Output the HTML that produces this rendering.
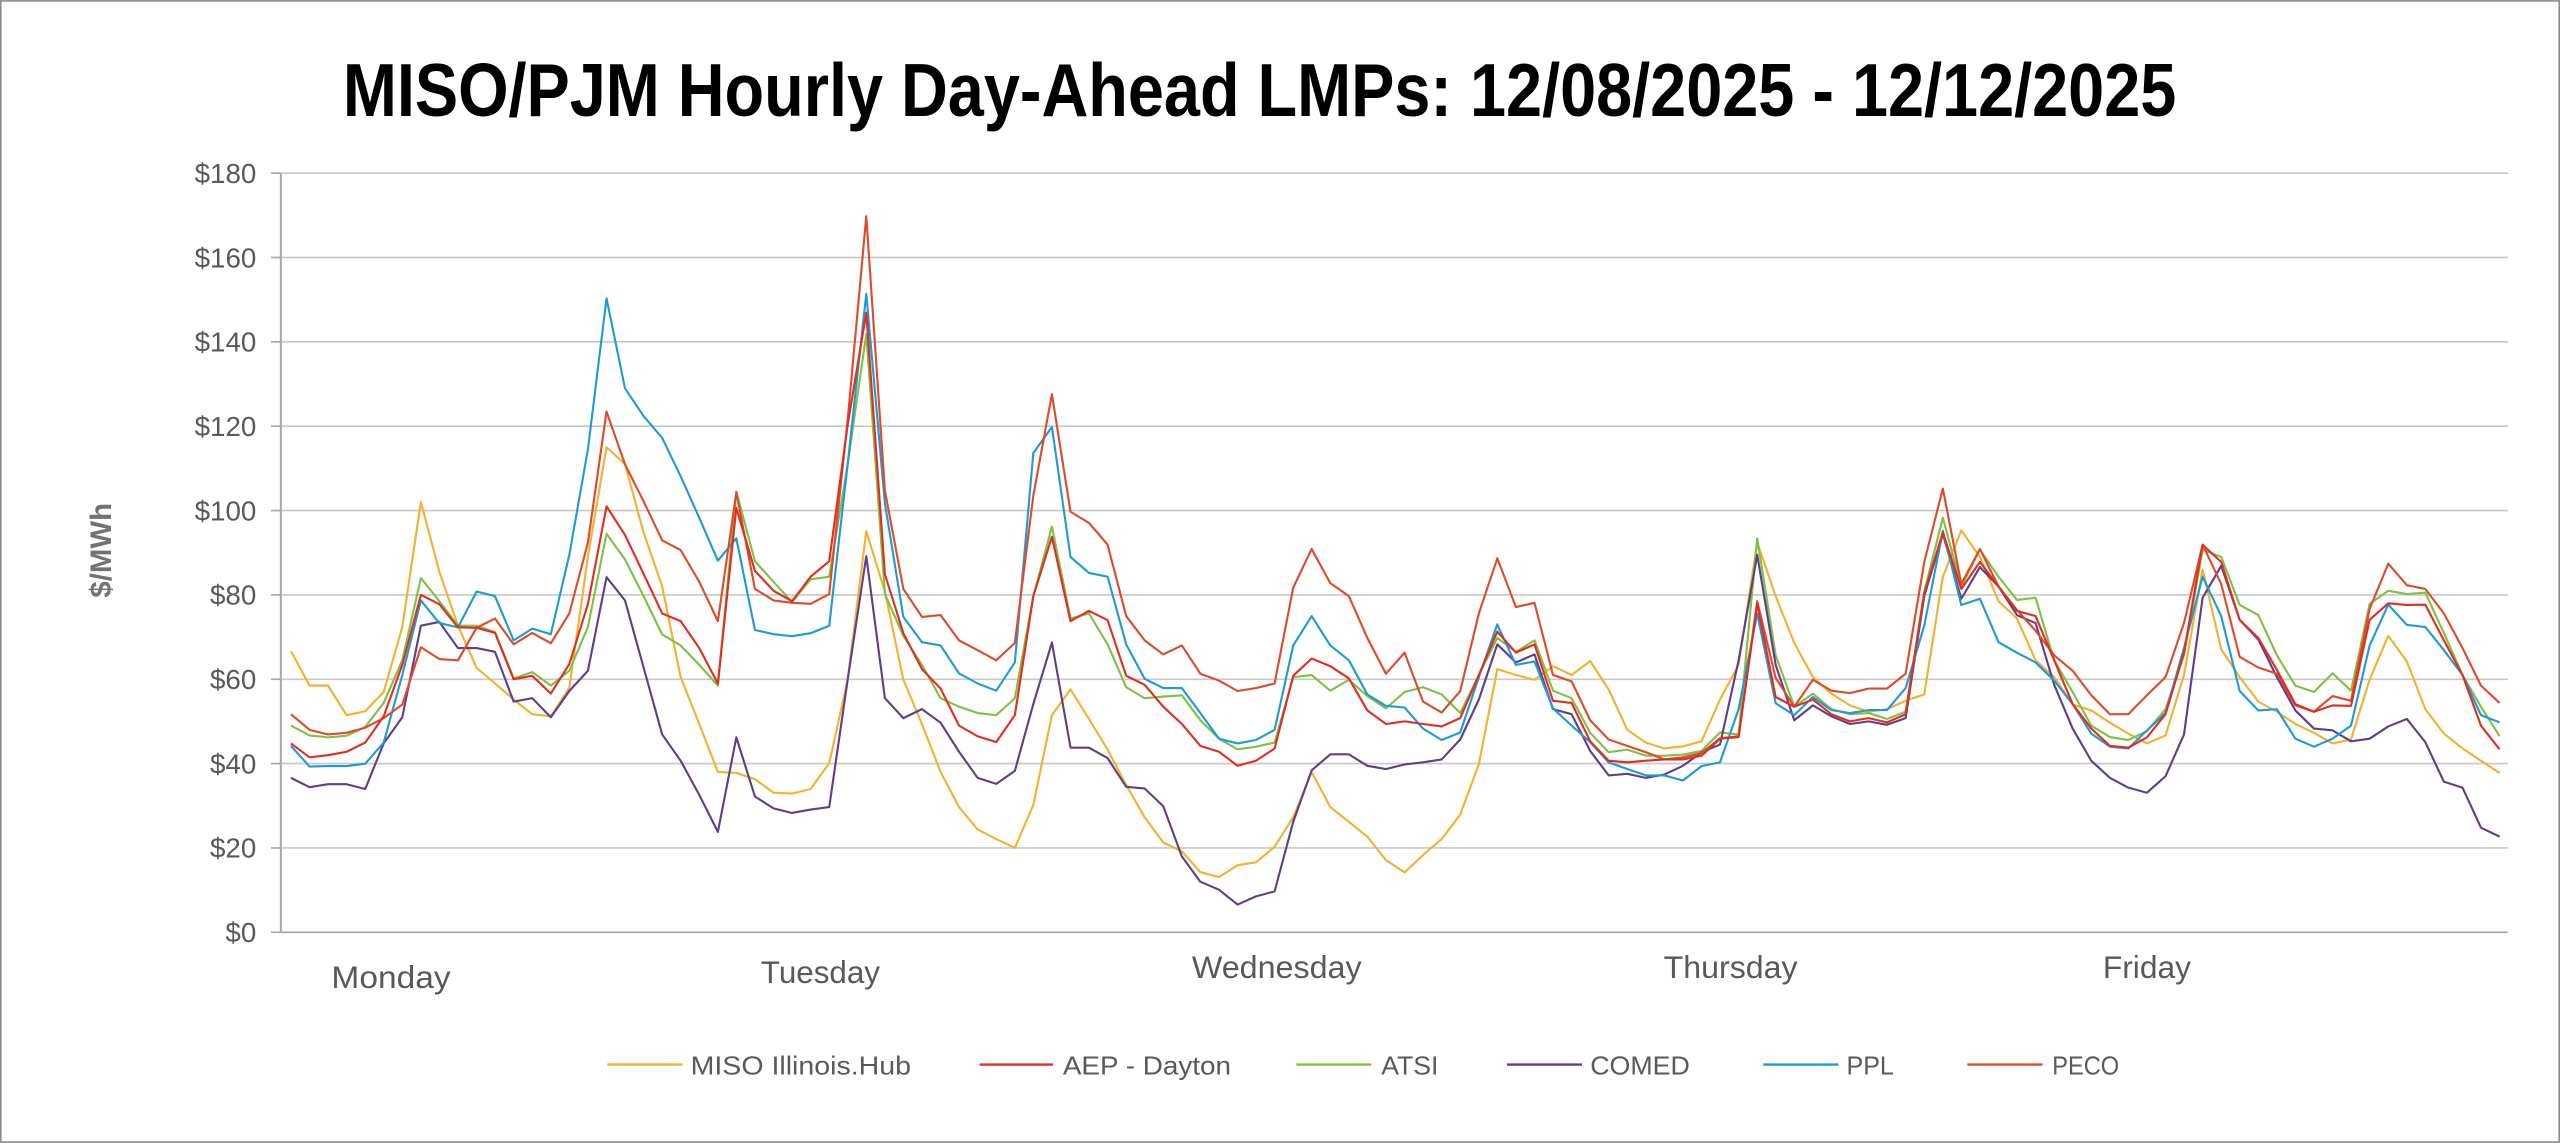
<!DOCTYPE html>
<html><head><meta charset="utf-8"><style>
html,body{margin:0;padding:0;background:#fff;}
svg{display:block;}
</style></head><body>
<svg id="c" width="2560" height="1143" viewBox="0 0 1568 700" xmlns="http://www.w3.org/2000/svg" font-family="'Liberation Sans', sans-serif">
<rect x="0.5" y="0.5" width="1567" height="699" fill="#fff" stroke="#8c8c8c" stroke-width="1"/>
<text x="210" y="71" font-size="46" font-weight="bold" fill="#000" textLength="1123" lengthAdjust="spacingAndGlyphs">MISO/PJM Hourly Day-Ahead LMPs: 12/08/2025 - 12/12/2025</text>
<g id="grid"></g>
<g id="series" fill="none" stroke-width="1.3" stroke-linejoin="round"></g>
<text transform="translate(68,337) rotate(-90)" text-anchor="middle" font-size="18" font-weight="bold" fill="#737373" textLength="58" lengthAdjust="spacingAndGlyphs">$/MWh</text>
<g font-size="19" fill="#595959">
<text x="203" y="605" textLength="73" lengthAdjust="spacingAndGlyphs">Monday</text>
<text x="466" y="602" textLength="73" lengthAdjust="spacingAndGlyphs">Tuesday</text>
<text x="730" y="599" textLength="104" lengthAdjust="spacingAndGlyphs">Wednesday</text>
<text x="1019" y="599" textLength="82" lengthAdjust="spacingAndGlyphs">Thursday</text>
<text x="1288" y="599" textLength="54" lengthAdjust="spacingAndGlyphs">Friday</text>
</g>
<g font-size="16" fill="#595959" stroke-width="1.5">
<line x1="372" y1="652" x2="418" y2="652" stroke="#F4B12E"/><text x="423" y="658" textLength="135" lengthAdjust="spacingAndGlyphs">MISO Illinois.Hub</text>
<line x1="600" y1="652" x2="645" y2="652" stroke="#E42D22"/><text x="651" y="658" textLength="103" lengthAdjust="spacingAndGlyphs">AEP - Dayton</text>
<line x1="794" y1="652" x2="840" y2="652" stroke="#7DC242"/><text x="846" y="658" textLength="35" lengthAdjust="spacingAndGlyphs">ATSI</text>
<line x1="923" y1="652" x2="969" y2="652" stroke="#603E8C"/><text x="974" y="658" textLength="61" lengthAdjust="spacingAndGlyphs">COMED</text>
<line x1="1080" y1="652" x2="1126" y2="652" stroke="#1E9BD7"/><text x="1131" y="658" textLength="29" lengthAdjust="spacingAndGlyphs">PPL</text>
<line x1="1205" y1="652" x2="1251" y2="652" stroke="#DD4B2A"/><text x="1257" y="658" textLength="41" lengthAdjust="spacingAndGlyphs">PECO</text>
</g>
</svg>
<script>
var NS="http://www.w3.org/2000/svg";
var g=document.getElementById("grid");
function el(t,a,p){var e=document.createElementNS(NS,t);for(var k in a)e.setAttribute(k,a[k]);p.appendChild(e);return e;}
function Y(v){return 571-v*465/180;}
for(var v=0;v<=180;v+=20){
  var y=Y(v);
  el("line",{x1:172,x2:1536,y1:y,y2:y,stroke:v==0?"#a6a6a6":"#c8c8c8","stroke-width":1},g);
  el("line",{x1:166,x2:172,y1:y,y2:y,stroke:"#a6a6a6","stroke-width":1},g);
  var t=el("text",{x:157,y:y+6,"text-anchor":"end","font-size":17,fill:"#595959"},g);t.textContent="$"+v;
}
el("line",{x1:172,x2:172,y1:106,y2:571,stroke:"#a6a6a6","stroke-width":1.2},g);
var D={
"#F4B12E":[66.7,58.5,58.5,51.5,52.4,57,72.4,102,85.5,72.7,62.7,59,55.2,51.7,51.2,58,89,115,111,94.8,82,60.5,49.4,38,
37.8,36.3,33.1,32.9,34,40.1,59.9,95.1,80.8,59.9,49.4,38,29.7,24.4,22.1,20,30.2,51.5,57.6,50.6,43.3,34.9,27.3,21.3,19.2,14.3,
13.1,15.9,16.6,20.3,27.3,38,29.7,26.2,22.7,17.1,14.2,18.3,22.1,27.9,39.9,62.4,61,59.9,63.1,61,64.3,57.6,48,45,43.6,
44.1,45.3,55.2,63.4,92.4,79.7,68.6,60.5,56.6,53.8,52.3,52.9,54.9,56.4,84.3,95.3,89,78.5,74.4,64.5,60.5,54,52.6,49.7,47.1,
44.8,46.7,61,86,67.1,60.5,54.7,52.3,49.4,47.3,44.8,45.7,59.9,70.3,64.2,52.9,47.1,43.6,40.7,37.8],
"#7DC242":[49,46.7,46.2,46.6,48.7,54.4,64.5,84,78.5,72.7,72.7,71.2,60.2,61.7,58.5,62,72.4,94.5,88.4,79.7,70.6,68,63.4,58.5,
104.5,88,83.1,78.3,83.7,84.3,111,141.9,80.2,70.3,63.4,55.5,53.5,52,51.5,55.5,79.7,96.2,74.4,75.6,68.3,58.1,55.5,55.9,56.2,50.3,
45.9,43.4,44,45,60.5,61,57.3,59.9,56,53.1,57,58.1,56.4,52,61,69.8,66.5,69.2,57.3,55.5,47.3,42.7,43.3,41.9,41.9,
42.1,43,47.4,46.9,93.4,65.7,53.5,56.6,52.9,51.7,52,50.6,52.3,80.8,98.3,82,90.7,84.3,78.8,79.3,64.5,57,49,46.3,45.6,
47.7,52.9,65.7,90.7,89,77.6,75.2,65.7,58.5,57,61.4,57.3,77.9,81,80.2,80.5,70.9,61,53.5,46.5],
"#603E8C":[36.6,34.4,35.1,35.1,34,44.8,51,72.7,73.6,67.4,67.4,66.5,54.7,55.5,51,57.2,62,84.2,78.7,62.8,46.9,40.7,32.6,23.8,
46.2,32.2,29.4,28.3,29.1,29.7,59.9,89.2,55.5,50.8,52.9,49.7,42.8,36.6,35.2,38.3,54.1,68.7,43.8,43.8,41.3,34.5,34.1,29.9,18,12,
10.1,6.6,8.5,9.7,26.2,38.4,42.2,42.2,39.5,38.7,39.8,40.3,41,45.7,55.2,68.3,64,65.9,52.9,51.7,43,37.2,37.6,36.6,37.4,
39.5,42.7,44.5,64.5,89.5,63.4,50.3,53.8,51.2,49.4,50,49.2,50.8,79.7,94.5,79.1,86.6,82,75.2,73.3,58.7,48.3,40.7,36.6,34.3,
33.1,37,46.9,79.3,86.9,74.1,69.4,60.5,52.6,48.3,47.9,45.3,45.9,48.8,50.6,45.1,35.7,34.3,24.8,22.7],
"#1E9BD7":[44.2,39.3,39.4,39.4,40,45,61,78.7,73.3,72.3,80.8,79.7,69.2,72,70.7,89.5,114.5,150.3,129,122.4,117.2,108.1,98.3,88.1,
93.4,71.7,70.7,70.2,70.9,72.7,111,151.4,101.7,74.8,68.8,68,61.4,59,57.3,64,113.6,119.8,89,85.2,84.3,68.3,60.1,57.9,57.9,52,
45.9,44.8,45.6,48,68,75,68,64.5,56.4,53.7,53.3,48.3,45.6,47.4,60.5,73,63.4,64.2,53.1,49,45.1,40.3,38.7,37.2,37.2,
36,39.4,40.3,52.9,75.6,54.3,51.5,55.8,52.7,52,52.7,52.7,57.9,72.7,95.2,77.6,79.1,68.8,66.3,64,59.7,54.1,47.1,44,43.6,
47.9,52,67.4,84.3,75,57.2,52.6,52.9,45.9,44,45.9,49,68,77.7,72.9,72.4,66.9,61,51.5,49.8],
"#DD4B2A":[51.7,48,46.9,47.3,48.5,50.8,54,67.6,64.8,64.5,72.2,74.4,68.3,71,68.5,75.6,92.4,123.5,111,102.2,92.9,90.6,83.1,73.8,
104.3,81.4,78.7,78.1,77.9,80.2,121.5,169.8,104.7,81.4,74.8,75.2,69.2,66.9,64.5,68.6,103.5,127.6,99.7,97.1,91.9,75,69.2,65.9,68,61.3,
59.7,57.2,57.9,59,81.7,90.9,82.8,79.7,69.8,61.3,66.3,54.7,52.1,57.2,75.6,88.7,77.1,78.1,61,59.5,50.3,45.7,44.2,42.7,41,
41.5,42.5,46,46.5,78.5,60.3,53.5,59.9,57.3,56.7,57.8,57.8,61.3,87.8,105.2,82.6,90.9,82,76.4,71.5,65.7,62,56.2,51.7,51.7,
56.2,60.5,73.3,91.9,82.6,65.3,62.8,61.3,53.8,52.3,56,54.9,76.7,87.4,82.3,81.4,75.6,67.4,58.5,54.4],
"#E42D22":[44.8,41.5,42,42.8,45,51.2,63.4,80,77.8,72.3,72.2,71,60,60.8,56.6,63.6,77.8,101,94.2,85,75.6,73.8,67.4,59,
100.6,85.7,81,78.5,84.3,88,120.3,146.9,84.9,70.9,62.4,57.8,49,46.5,45.1,51.5,79.7,93.8,73.8,76.2,74,60.8,58.7,53.5,49.4,44.2,
42.8,39.5,40.7,43.6,60.8,64.9,63.1,60.2,52.6,49.4,50,49.4,48.8,50.8,61,71.3,66.3,68.3,54.9,54.4,45.3,40.7,40.3,40.7,41,
41,41.9,45.9,46.3,77.9,55.8,53.5,55.2,51.7,50,50.8,49.8,51.7,80.4,94.8,81.4,87.8,82,76.2,75,64.5,54.1,48.3,44.2,43.8,
46.2,51.7,66.3,91.9,87.8,74.1,69.8,62.2,54.1,52.3,53.8,53.7,74.1,78,77.6,77.7,69.2,61,49,43.4]
};
var s=document.getElementById("series");
for(var c in D){var a=D[c],p=[];for(var i=0;i<a.length;i++)p.push((178.2+i*11.368).toFixed(1)+","+Y(a[i]).toFixed(1));
el("polyline",{points:p.join(" "),stroke:c},s);}
</script>
</body></html>
